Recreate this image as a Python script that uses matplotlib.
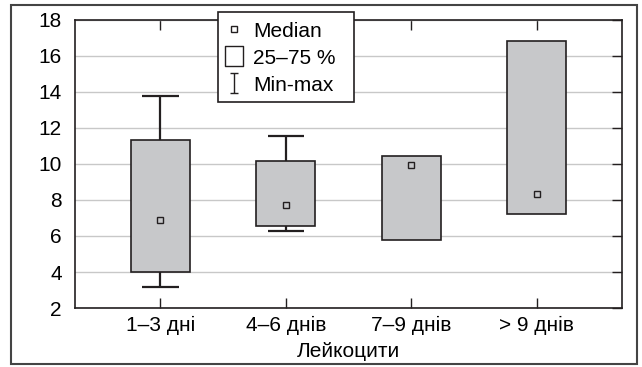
import matplotlib
matplotlib.use("Agg")
import matplotlib.pyplot as plt
from matplotlib.lines import Line2D
from matplotlib.path import Path
from matplotlib.patches import Rectangle

plt.rcParams['font.family'] = ['Liberation Sans', 'DejaVu Sans']

# data
categories = ["1–3 дні", "4–6 днів", "7–9 днів", "> 9 днів"]
q1 = [4.0, 6.55, 5.8, 7.2]
q3 = [11.35, 10.15, 10.45, 16.85]
medians = [6.9, 7.7, 9.95, 8.35]
mins = [3.15, 6.3, 5.8, 7.2]
maxs = [13.75, 11.55, 10.45, 16.85]
yticks = [2, 4, 6, 8, 10, 12, 14, 16, 18]

dark = '#231f20'
fill = '#c7c8ca'
FS = 15

fig = plt.figure(figsize=(6.42, 3.67), dpi=100)
ax = fig.add_axes([75 / 642, 1 - 308 / 367, 547 / 642, 288 / 367])

pos = list(range(1, len(categories) + 1))

# whiskers (only where min/max lie outside the box)
for p, lo, hi, a, b in zip(pos, mins, maxs, q1, q3):
    if hi > b:
        ax.vlines(p, b, hi, color=dark, lw=1.6, zorder=2)
        ax.hlines(hi, p - 0.145, p + 0.145, color=dark, lw=1.6, zorder=2)
    if lo < a:
        ax.vlines(p, lo, a, color=dark, lw=1.6, zorder=2)
        ax.hlines(lo, p - 0.145, p + 0.145, color=dark, lw=1.6, zorder=2)

# boxes
ax.bar(pos, [b - a for a, b in zip(q1, q3)], bottom=q1, width=0.47,
       color=fill, edgecolor=dark, linewidth=1.2, zorder=3)

# medians
ax.plot(pos, medians, ls='none', marker='s', ms=5, mfc=fill, mec=dark, mew=1.0, zorder=4)

ax.set_xlim(0.32, 4.68)
ax.set_ylim(2, 18)
ax.set_yticks(yticks)
ax.set_xticks(pos)
ax.set_xticklabels(categories)
ax.grid(axis='y', color='#c8c8c8', lw=1.0, zorder=0)
ax.set_axisbelow(True)
ax.tick_params(axis='y', which='both', direction='in', length=7, left=False, right=True,
               labelsize=FS, pad=9.5, color=dark, width=1.0)
ax.tick_params(axis='x', which='both', direction='in', length=7, top=True, bottom=True,
               labelsize=FS, pad=6, color=dark, width=1.0)
for s in ax.spines.values():
    s.set_color(dark)
    s.set_linewidth(1.2)
ax.set_xlabel("Лейкоцити", fontsize=FS, labelpad=5)

# legend: frame drawn separately so the padding matches the original
fig.patches.append(Rectangle((218 / 642, 1 - 102 / 367), 136 / 642, 90 / 367,
                             transform=fig.transFigure, facecolor='white',
                             edgecolor=dark, lw=1.2, zorder=9))
ipath = Path([(-0.42, -1), (0.42, -1), (0, -1), (0, 1), (-0.42, 1), (0.42, 1)],
             [Path.MOVETO, Path.LINETO, Path.MOVETO, Path.LINETO, Path.MOVETO, Path.LINETO])
rpath = Path([(-0.85, -1), (0.85, -1), (0.85, 1), (-0.85, 1), (-0.85, -1)],
             [Path.MOVETO, Path.LINETO, Path.LINETO, Path.LINETO, Path.CLOSEPOLY])
handles = [
    Line2D([], [], ls='none', marker='s', ms=5, mfc='white', mec=dark, mew=1.0),
    Line2D([], [], ls='none', marker=rpath, ms=15, mfc='white', mec=dark, mew=1.0),
    Line2D([], [], ls='none', marker=ipath, ms=14, mfc='none', mec=dark, mew=1.0),
]
leg = fig.legend(handles, ["Median", "25–75 %", "Min-max"], loc='upper left',
                 bbox_to_anchor=(218 / 642, 1 - 15.5 / 367), fontsize=FS,
                 frameon=False, handlelength=0.9, handletextpad=0.5,
                 labelspacing=0.38, borderpad=0.3, borderaxespad=0)
leg.set_zorder(10)

# outer frame
fig.patches.append(Rectangle((11 / 642, 1 - 364 / 367), 626 / 642, 359 / 367,
                             transform=fig.transFigure, fill=False, edgecolor='#444444', lw=1.5))

fig.savefig("out.png", dpi=100)
